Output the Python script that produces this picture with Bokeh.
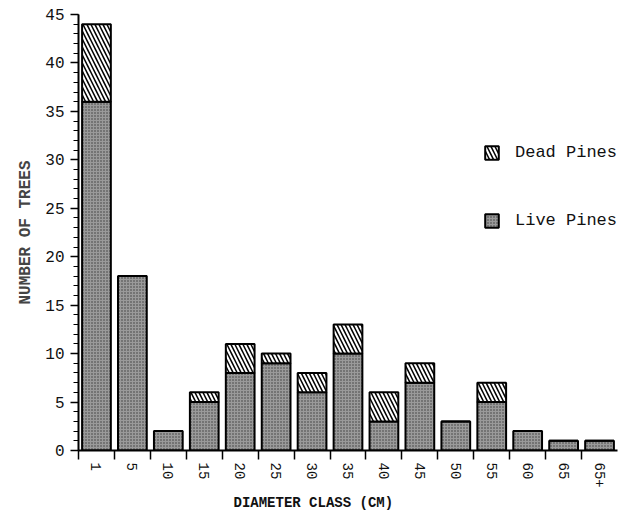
import numpy as np
from bokeh.plotting import figure
from bokeh.models import (ColumnDataSource, Range1d, FixedTicker, Legend, LegendItem, Title)
from bokeh.embed import file_html
from bokeh.resources import INLINE

classes = ["1", "5", "10", "15", "20", "25", "30", "35", "40", "45", "50", "55", "60", "65", "65+"]
live = [36, 18, 2, 5, 8, 9, 6, 10, 3, 7, 3, 5, 2, 1, 1]
dead = [8, 0, 0, 1, 3, 1, 2, 3, 3, 2, 0, 2, 0, 0, 0]
y_ticks = [0, 5, 10, 15, 20, 25, 30, 35, 40, 45]

FONT = "Liberation Mono"
n = len(classes)
xs = [i + 0.5 for i in range(n)]
src = ColumnDataSource(dict(x=xs, live=live, dead=dead))

p = figure(frame_width=539, frame_height=436, output_backend="svg", toolbar_location=None,
           x_range=Range1d(0, n), y_range=Range1d(0, 45),
           min_border_left=78, min_border_right=2, min_border_top=14, min_border_bottom=4)
p.outline_line_color = None
p.grid.visible = False
p.background_fill_color = "white"

rs = p.vbar_stack(["live", "dead"], x="x", width=0.8, source=src,
                  fill_color=["#9a9a9a", "white"],
                  hatch_pattern=[".", "\\"],
                  hatch_color=["#3a3a3a", "black"],
                  hatch_scale=[3, 8],
                  hatch_weight=[1, 1.5],
                  line_color="black", line_width=2)

leg = Legend(items=[LegendItem(label="Dead Pines", renderers=[rs[1]]),
                    LegendItem(label="Live Pines", renderers=[rs[0]])],
             location=(405, 220), orientation="vertical")
leg.glyph_width = 17
leg.glyph_height = 17
leg.spacing = 49
leg.label_standoff = 15
leg.label_text_font = FONT
leg.label_text_font_size = "17px"
leg.label_text_color = "#111111"
leg.border_line_color = None
leg.background_fill_alpha = 0
p.add_layout(leg, "center")

# y axis
ya = p.yaxis[0]
ya.ticker = FixedTicker(ticks=y_ticks, minor_ticks=list(range(0, 46)))
ya.axis_label = "NUMBER OF TREES"
ya.axis_label_text_font = FONT
ya.axis_label_text_font_style = "bold"
ya.axis_label_text_font_size = "16px"
ya.axis_label_standoff = 7
ya.major_label_text_font = FONT
ya.major_label_text_font_size = "16px"
ya.major_label_text_color = "#111111"
ya.major_label_standoff = 6
ya.axis_line_width = 2
ya.major_tick_out = 8
ya.major_tick_in = 0
ya.minor_tick_out = 5
ya.minor_tick_in = 0
ya.major_tick_line_width = 1.5

# x axis
xa = p.xaxis[0]
xa.ticker = FixedTicker(ticks=xs, minor_ticks=list(range(0, n)))
xa.major_label_overrides = {x: c for x, c in zip(xs, classes)}
xa.major_label_orientation = "vertical"
xa.major_label_text_font = FONT
xa.major_label_text_font_size = "14px"
xa.major_label_text_color = "#111111"
xa.major_tick_line_color = None
xa.major_tick_out = 9
xa.major_label_standoff = 3
xa.minor_tick_out = 9
xa.minor_tick_in = 0
xa.minor_tick_line_width = 1.5
xa.axis_line_width = 2

t = Title(text="DIAMETER CLASS (CM)", align="left", offset=155, standoff=4,
          text_font=FONT, text_font_style="bold", text_font_size="14px",
          text_color="#111111")
p.add_layout(t, "below")

open("out.html", "w").write(file_html(p, INLINE))
